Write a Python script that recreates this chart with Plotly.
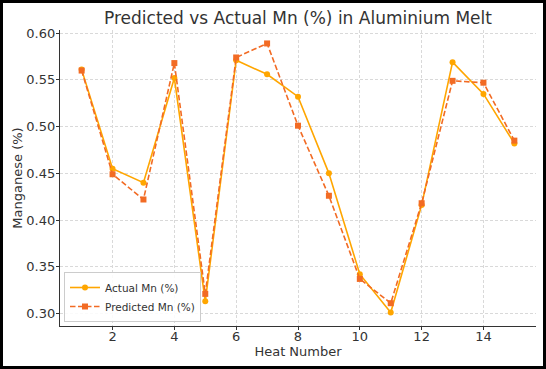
import plotly.graph_objects as go

heat = list(range(1, 16))
actual = [0.561, 0.455, 0.440, 0.552, 0.313, 0.571, 0.556, 0.532, 0.450, 0.342, 0.301, 0.416, 0.569, 0.535, 0.482]
predicted = [0.560, 0.449, 0.422, 0.568, 0.321, 0.574, 0.589, 0.501, 0.426, 0.337, 0.311, 0.418, 0.549, 0.547, 0.485]
x_ticks = [2, 4, 6, 8, 10, 12, 14]
y_ticks = [0.30, 0.35, 0.40, 0.45, 0.50, 0.55, 0.60]

W, H = 546, 369
L, R, T, B = 60, 10, 30, 43
pw, ph = W - L - R, H - T - B

font = "DejaVu Sans, Arial, sans-serif"
txt = "#333333"

fig = go.Figure()
fig.add_trace(go.Scatter(
    x=heat, y=actual, mode="lines+markers", name="Actual Mn (%)",
    line=dict(color="#FFA600", width=1.6),
    marker=dict(symbol="circle", size=6, color="#FFA600"),
))
fig.add_trace(go.Scatter(
    x=heat, y=predicted, mode="lines+markers", name="Predicted Mn (%)",
    line=dict(color="#F26B24", width=1.6, dash="5.5px,2.5px"),
    marker=dict(symbol="square", size=6, color="#F26B24"),
))

fig.update_layout(
    width=W, height=H,
    margin=dict(l=L, r=R, t=T, b=B, autoexpand=False),
    paper_bgcolor="white", plot_bgcolor="white",
    font=dict(family=font, color=txt, size=13),
    title=dict(text="Predicted vs Actual Mn (%) in Aluminium Melt",
               x=0.5, xref="paper", xanchor="center",
               y=1 - 18 / H, yanchor="middle",
               font=dict(size=17, color=txt, family=font)),
    legend=dict(x=4 / pw, y=4 / ph, xanchor="left", yanchor="bottom",
                bgcolor="rgba(255,255,255,0.85)", bordercolor="#cccccc", borderwidth=1,
                font=dict(size=10.5, color=txt), tracegroupgap=0,
                itemwidth=30),
    showlegend=True,
)
fig.update_xaxes(
    range=[0.3, 15.7], tickvals=x_ticks, ticktext=[str(v) for v in x_ticks],
    showgrid=True, gridcolor="#d9d9d9", griddash="3px,2px", gridwidth=0.8,
    showline=True, linecolor="#333333", linewidth=1.2, mirror=False,
    ticks="outside", ticklen=3, tickcolor="#333333", zeroline=False,
    automargin=False, ticklabelstandoff=-5,
    title=dict(text="Heat Number", font=dict(size=13), standoff=0),
    tickfont=dict(size=13),
)
fig.update_yaxes(
    range=[0.2866, 0.6034], tickvals=y_ticks, ticktext=[f"{v:.2f}" for v in y_ticks],
    showgrid=True, gridcolor="#d9d9d9", griddash="3px,2px", gridwidth=0.8,
    showline=True, linecolor="#333333", linewidth=1.2, mirror=False,
    ticks="outside", ticklen=3, tickcolor="#333333", zeroline=False,
    automargin=False, ticklabelstandoff=-2,
    title=dict(text="Manganese (%)", font=dict(size=13), standoff=0),
    tickfont=dict(size=13),
)

# outer black frame around the whole figure
fig.add_shape(type="rect", xref="paper", yref="paper",
              x0=(1.5 - L) / pw, x1=(W - 1.5 - L) / pw,
              y0=-(B - 1.5) / ph, y1=1 + (T - 1.5) / ph,
              line=dict(color="black", width=3), fillcolor="rgba(0,0,0,0)",
              layer="above")

fig.write_html("out.html", config={"displayModeBar": False},
               post_script="document.body.style.margin='0';document.body.style.overflow='hidden';")
